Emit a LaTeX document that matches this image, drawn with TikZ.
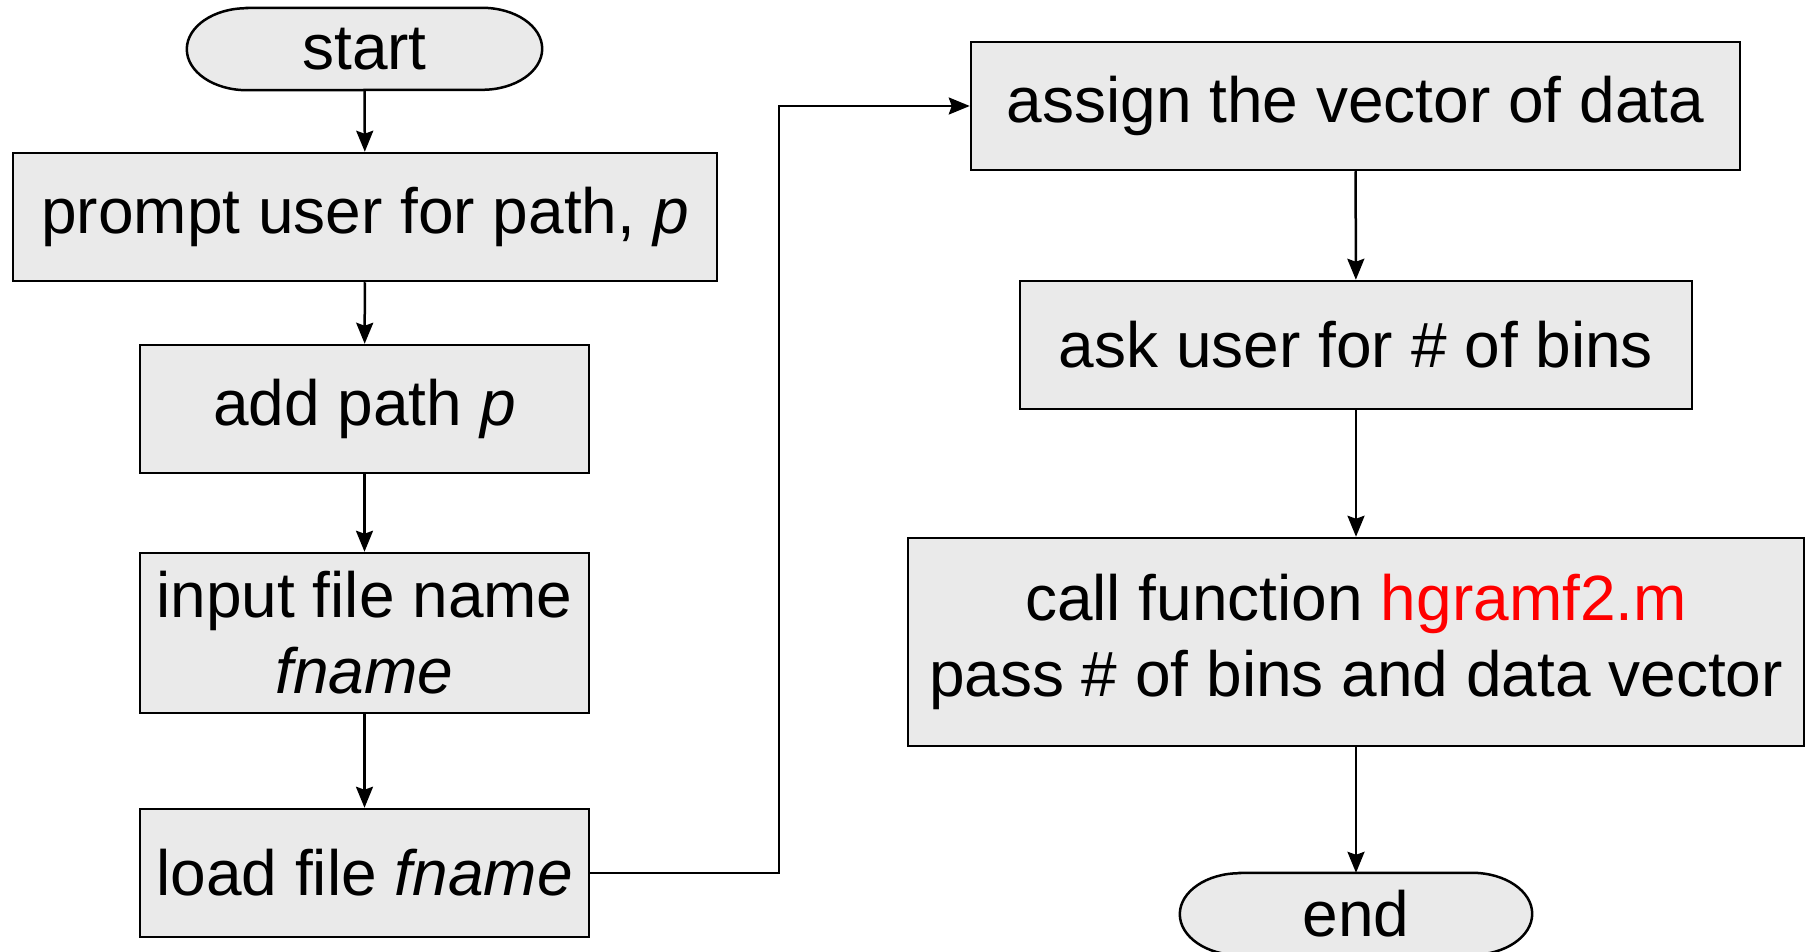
\documentclass[tikz,border=0pt]{standalone}
\usepackage{fontspec}
\setmainfont{Liberation Sans}
\usetikzlibrary{arrows.meta,backgrounds}
\definecolor{boxfill}{HTML}{EAEAEA}
\definecolor{hred}{HTML}{FF0000}
\tikzset{
  procbox/.style={draw=black, fill=boxfill, line width=2.5pt, align=center, inner sep=0pt,
    font=\fontsize{64}{76}\selectfont},
  termtext/.style={inner sep=0pt, font=\fontsize{64}{76}\selectfont},
  termline/.style={draw=black, fill=boxfill, line width=2.5pt},
  conn/.style={line width=2.5pt, -{Stealth[length=21pt,width=17pt,inset=3pt]}}
}
\begin{document}
\begin{tikzpicture}[x=1pt,y=1pt]
\useasboundingbox (0,0) rectangle (1813,-952);
% left column
\node[termtext, minimum width=355, minimum height=82] (start) at (364.5,-49) {start};
\node[procbox, minimum width=704, minimum height=128] (prompt) at (365,-217) {prompt user for path, \textit{p}};
\node[procbox, minimum width=449, minimum height=128] (addp) at (364.5,-409) {add path \textit{p}};
\node[procbox, minimum width=449, minimum height=160] (input) at (364.5,-633) {input file name\\\textit{fname}};
\node[procbox, minimum width=449, minimum height=128] (load) at (364.5,-873) {load file \textit{fname}};
% right column
\node[procbox, minimum width=769, minimum height=128] (assign) at (1355.5,-106) {assign the vector of data};
\node[procbox, minimum width=672, minimum height=128] (ask) at (1356,-345) {ask user for \# of bins};
\node[procbox, minimum width=896, minimum height=208] (call) at (1356,-642) {call function \textcolor{hred}{hgramf2.m}\\pass \# of bins and data vector};
\node[termtext, minimum width=352, minimum height=82] (end) at (1356,-914) {end};
\begin{scope}[on background layer]
\draw[termline] ([xshift=60]start.north west) -- ([xshift=-60]start.north east)
   arc[start angle=90,end angle=-90,x radius=60,y radius=41]
   -- ([xshift=60]start.south west)
   arc[start angle=270,end angle=90,x radius=60,y radius=41] -- cycle;
\draw[termline] ([xshift=60]end.north west) -- ([xshift=-60]end.north east)
   arc[start angle=90,end angle=-90,x radius=60,y radius=41]
   -- ([xshift=60]end.south west)
   arc[start angle=270,end angle=90,x radius=60,y radius=41] -- cycle;
\end{scope}
\coordinate (bend) at (779,-106);
\draw[conn] (start) -- (prompt);
\draw[conn] (prompt) -- (addp);
\draw[conn] (addp) -- (input);
\draw[conn] (input) -- (load);
\draw[conn] (load.east) -| (bend) -- (assign.west);
\draw[conn] (assign) -- (ask);
\draw[conn] (ask) -- (call);
\draw[conn] (call) -- (end);
\end{tikzpicture}
\end{document}
